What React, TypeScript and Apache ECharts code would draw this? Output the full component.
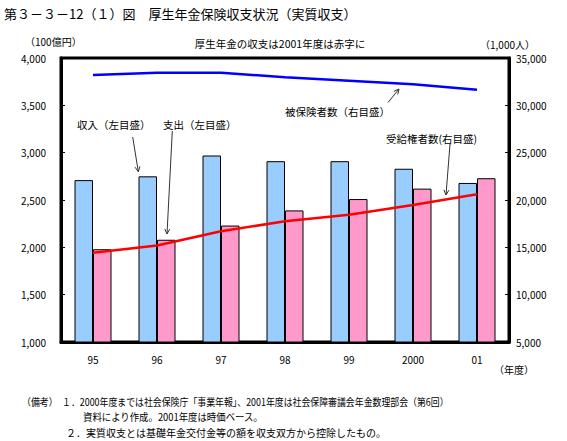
import React, { useEffect, useRef } from "react";
import * as echarts from "echarts";

const categories = ["95", "96", "97", "98", "99", "2000", "01"];
const income = [2710, 2750, 2970, 2910, 2910, 2830, 2680];
const expenditure = [1980, 2080, 2230, 2390, 2510, 2620, 2730];
const insured = [33200, 33450, 33450, 32960, 32600, 32220, 31650];
const pensioners = [14430, 15200, 16700, 17750, 18450, 19470, 20600];

const leftTicks = { min: 1000, max: 4000, interval: 500 };
const rightTicks = { min: 5000, max: 35000, interval: 5000 };

const FONT = '"Noto Sans CJK JP", "Noto Sans", sans-serif';

function fmt(v: number) {
  return v.toLocaleString("en-US");
}

function arrow(x1: number, y1: number, x2: number, y2: number) {
  const dx = x2 - x1;
  const dy = y2 - y1;
  const len = Math.sqrt(dx * dx + dy * dy);
  const ux = dx / len;
  const uy = dy / len;
  const hl = 5;
  const hw = 2.5;
  const bx = x2 - ux * hl;
  const by = y2 - uy * hl;
  const px = -uy;
  const py = ux;
  return [
    {
      type: "line",
      shape: { x1, y1, x2, y2 },
      style: { stroke: "#333", lineWidth: 1 },
      silent: true,
    },
    {
      type: "polyline",
      shape: {
        points: [
          [bx + px * hw, by + py * hw],
          [x2, y2],
          [bx - px * hw, by - py * hw],
        ],
      },
      style: { stroke: "#333", lineWidth: 1, fill: null },
      silent: true,
    },
  ];
}

function txt(text: string, x: number, y: number, size: number, align = "left", scaleX = 1) {
  return {
    type: "text",
    x,
    y,
    scaleX,
    silent: true,
    style: {
      text,
      fill: "#000",
      fontSize: size,
      fontFamily: FONT,
      align,
      verticalAlign: "middle",
    },
  };
}

export default function App() {
  const ref = useRef<HTMLDivElement>(null);
  useEffect(() => {
    if (!ref.current) return;
    const chart = echarts.init(ref.current, null, { renderer: "svg" });
    const axisLabelStyle = { fontSize: 10, fontFamily: FONT, color: "#000" };
    chart.setOption({
      animation: false,
      backgroundColor: "#fff",
      grid: {
        left: 61,
        top: 58,
        width: 448,
        height: 284,
        show: true,
        borderColor: "#000",
        borderWidth: 3,
        containLabel: false,
      },
      xAxis: {
        type: "category",
        data: categories,
        axisLine: { lineStyle: { color: "#000", width: 3 } },
        axisTick: { inside: true, length: 4, lineStyle: { color: "#000", width: 1 } },
        axisLabel: { ...axisLabelStyle, margin: 12 },
        splitLine: { show: false },
      },
      yAxis: [
        {
          type: "value",
          min: leftTicks.min,
          max: leftTicks.max,
          interval: leftTicks.interval,
          axisLine: { show: true, lineStyle: { color: "#000", width: 3 } },
          axisTick: { show: true, inside: true, length: 4, lineStyle: { color: "#000", width: 1 } },
          axisLabel: { ...axisLabelStyle, margin: 15, formatter: (v: number) => fmt(v) },
          splitLine: { show: false },
        },
        {
          type: "value",
          position: "right",
          min: rightTicks.min,
          max: rightTicks.max,
          interval: rightTicks.interval,
          axisLine: { show: true, lineStyle: { color: "#000", width: 3 } },
          axisTick: { show: true, inside: true, length: 4, lineStyle: { color: "#000", width: 1 } },
          axisLabel: { ...axisLabelStyle, margin: 7, formatter: (v: number) => fmt(v) },
          splitLine: { show: false },
        },
      ],
      series: [
        {
          name: "収入（左目盛）",
          type: "bar",
          data: income,
          barWidth: 18.5,
          barGap: "0%",
          itemStyle: { color: "#99CCFF", borderColor: "#000", borderWidth: 1 },
          z: 2,
        },
        {
          name: "支出（左目盛）",
          type: "bar",
          data: expenditure,
          barWidth: 18.5,
          barGap: "0%",
          itemStyle: { color: "#FF99CC", borderColor: "#000", borderWidth: 1 },
          z: 2,
        },
        {
          name: "被保険者数（右目盛）",
          type: "line",
          yAxisIndex: 1,
          data: insured,
          symbol: "none",
          lineStyle: { color: "#0000FF", width: 2.5 },
          z: 5,
        },
        {
          name: "受給権者数（右目盛）",
          type: "line",
          yAxisIndex: 1,
          data: pensioners,
          symbol: "none",
          lineStyle: { color: "#FF0000", width: 2.5 },
          z: 5,
        },
      ],
      graphic: [
        txt("第３－３－12（１）図　厚生年金保険収支状況（実質収支）", 4, 13, 13),
        txt("厚生年金の収支は2001年度は赤字に", 280, 43, 10.5, "center"),
        txt("（100億円）", 25, 41, 10),
        txt("（1,000人）", 480, 44, 10),
        txt("（年度）", 494, 369, 10),
        txt("収入（左目盛）", 77, 124, 10.5),
        txt("支出（左目盛）", 163, 124, 10.5),
        txt("被保険者数（右目盛）", 285, 111, 10.5),
        txt("受給権者数(右目盛)", 386, 138, 10.5),
        ...arrow(132.7, 137, 138.3, 171.7),
        ...arrow(172.3, 131, 167, 234),
        ...arrow(388, 102.5, 399, 89),
        ...arrow(450, 144, 446, 195),
        txt("（備考）　１．2000年度までは社会保険庁「事業年報」、2001年度は社会保障審議会年金数理部会（第6回）", 22, 402, 10, "left", 0.89),
        txt("資料により作成。2001年度は時価ベース。", 83, 417, 10, "left", 0.94),
        txt("２．実質収支とは基礎年金交付金等の額を収支双方から控除したもの。", 66, 432, 10),
      ],
    });
    return () => chart.dispose();
  }, []);
  return (
    <div
      ref={ref}
      style={{ position: "absolute", left: 0, top: 0, width: 567, height: 441 }}
    />
  );
}
